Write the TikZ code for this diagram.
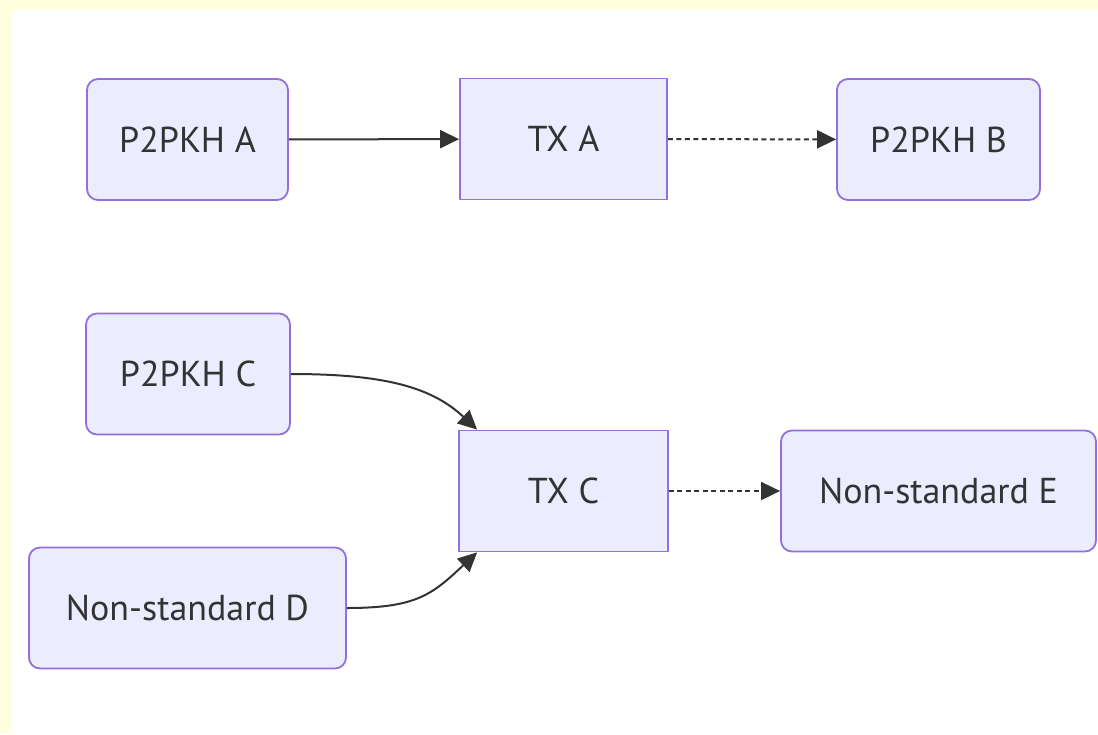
\documentclass[tikz,border=0pt]{standalone}
\usepackage{fontspec}
\setmainfont{PT Sans}
\usetikzlibrary{arrows.meta}
\definecolor{frame}{HTML}{FFFFDE}
\definecolor{boxfill}{HTML}{ECECFF}
\definecolor{boxline}{HTML}{9370DB}
\definecolor{ink}{HTML}{333333}

\begin{document}
\begin{tikzpicture}[x=1pt,y=-1pt,line join=round,
    box/.style={draw=boxline,fill=boxfill,line width=1.8pt,text=ink,
      inner sep=0pt,minimum height=121pt,font=\fontsize{36}{43}\selectfont},
    roundbox/.style={box,rounded corners=11pt},
    link/.style={draw=ink,line width=2pt,-{Triangle[length=19pt,width=18pt]}},
    dotlink/.style={link,dash pattern=on 5pt off 3.5pt}]
  % page 1098 x 734, pale strip along top and left
  \useasboundingbox (0,0) rectangle (1098,734);
  \fill[frame] (0,0) rectangle (1098,734);
  \fill[white] (11,10) rectangle (1098,734);

  % ---- first chain ----
  \node[roundbox,minimum width=201pt] (pa) at (187.5,139.5) {P2PKH A};
  \node[box,minimum width=207pt] (txa) at (563.5,139) {TX A};
  \node[roundbox,minimum width=203pt] (pb) at (938.5,139.5) {P2PKH B};

  % ---- second chain ----
  \node[roundbox,minimum width=204pt] (pc) at (188,374) {P2PKH C};
  \node[roundbox,minimum width=317pt] (nd) at (187.5,608) {Non-standard D};
  \node[box,minimum width=209pt] (txc) at (563.5,491) {TX C};
  \node[roundbox,minimum width=315pt] (ne) at (938.5,491) {Non-standard E};

  % connectors
  \draw[link] (pa) -- (txa);
  \draw[dotlink] (txa) -- (pb);
  \draw[link] (pc.east) .. controls +(95,0) and +(-45,-42) .. ([xshift=19pt]txc.north west);
  \draw[link] (nd.east) .. controls +(70,0) and +(-45,42) .. ([xshift=19pt]txc.south west);
  \draw[dotlink] (txc) -- (ne);
\end{tikzpicture}
\end{document}
